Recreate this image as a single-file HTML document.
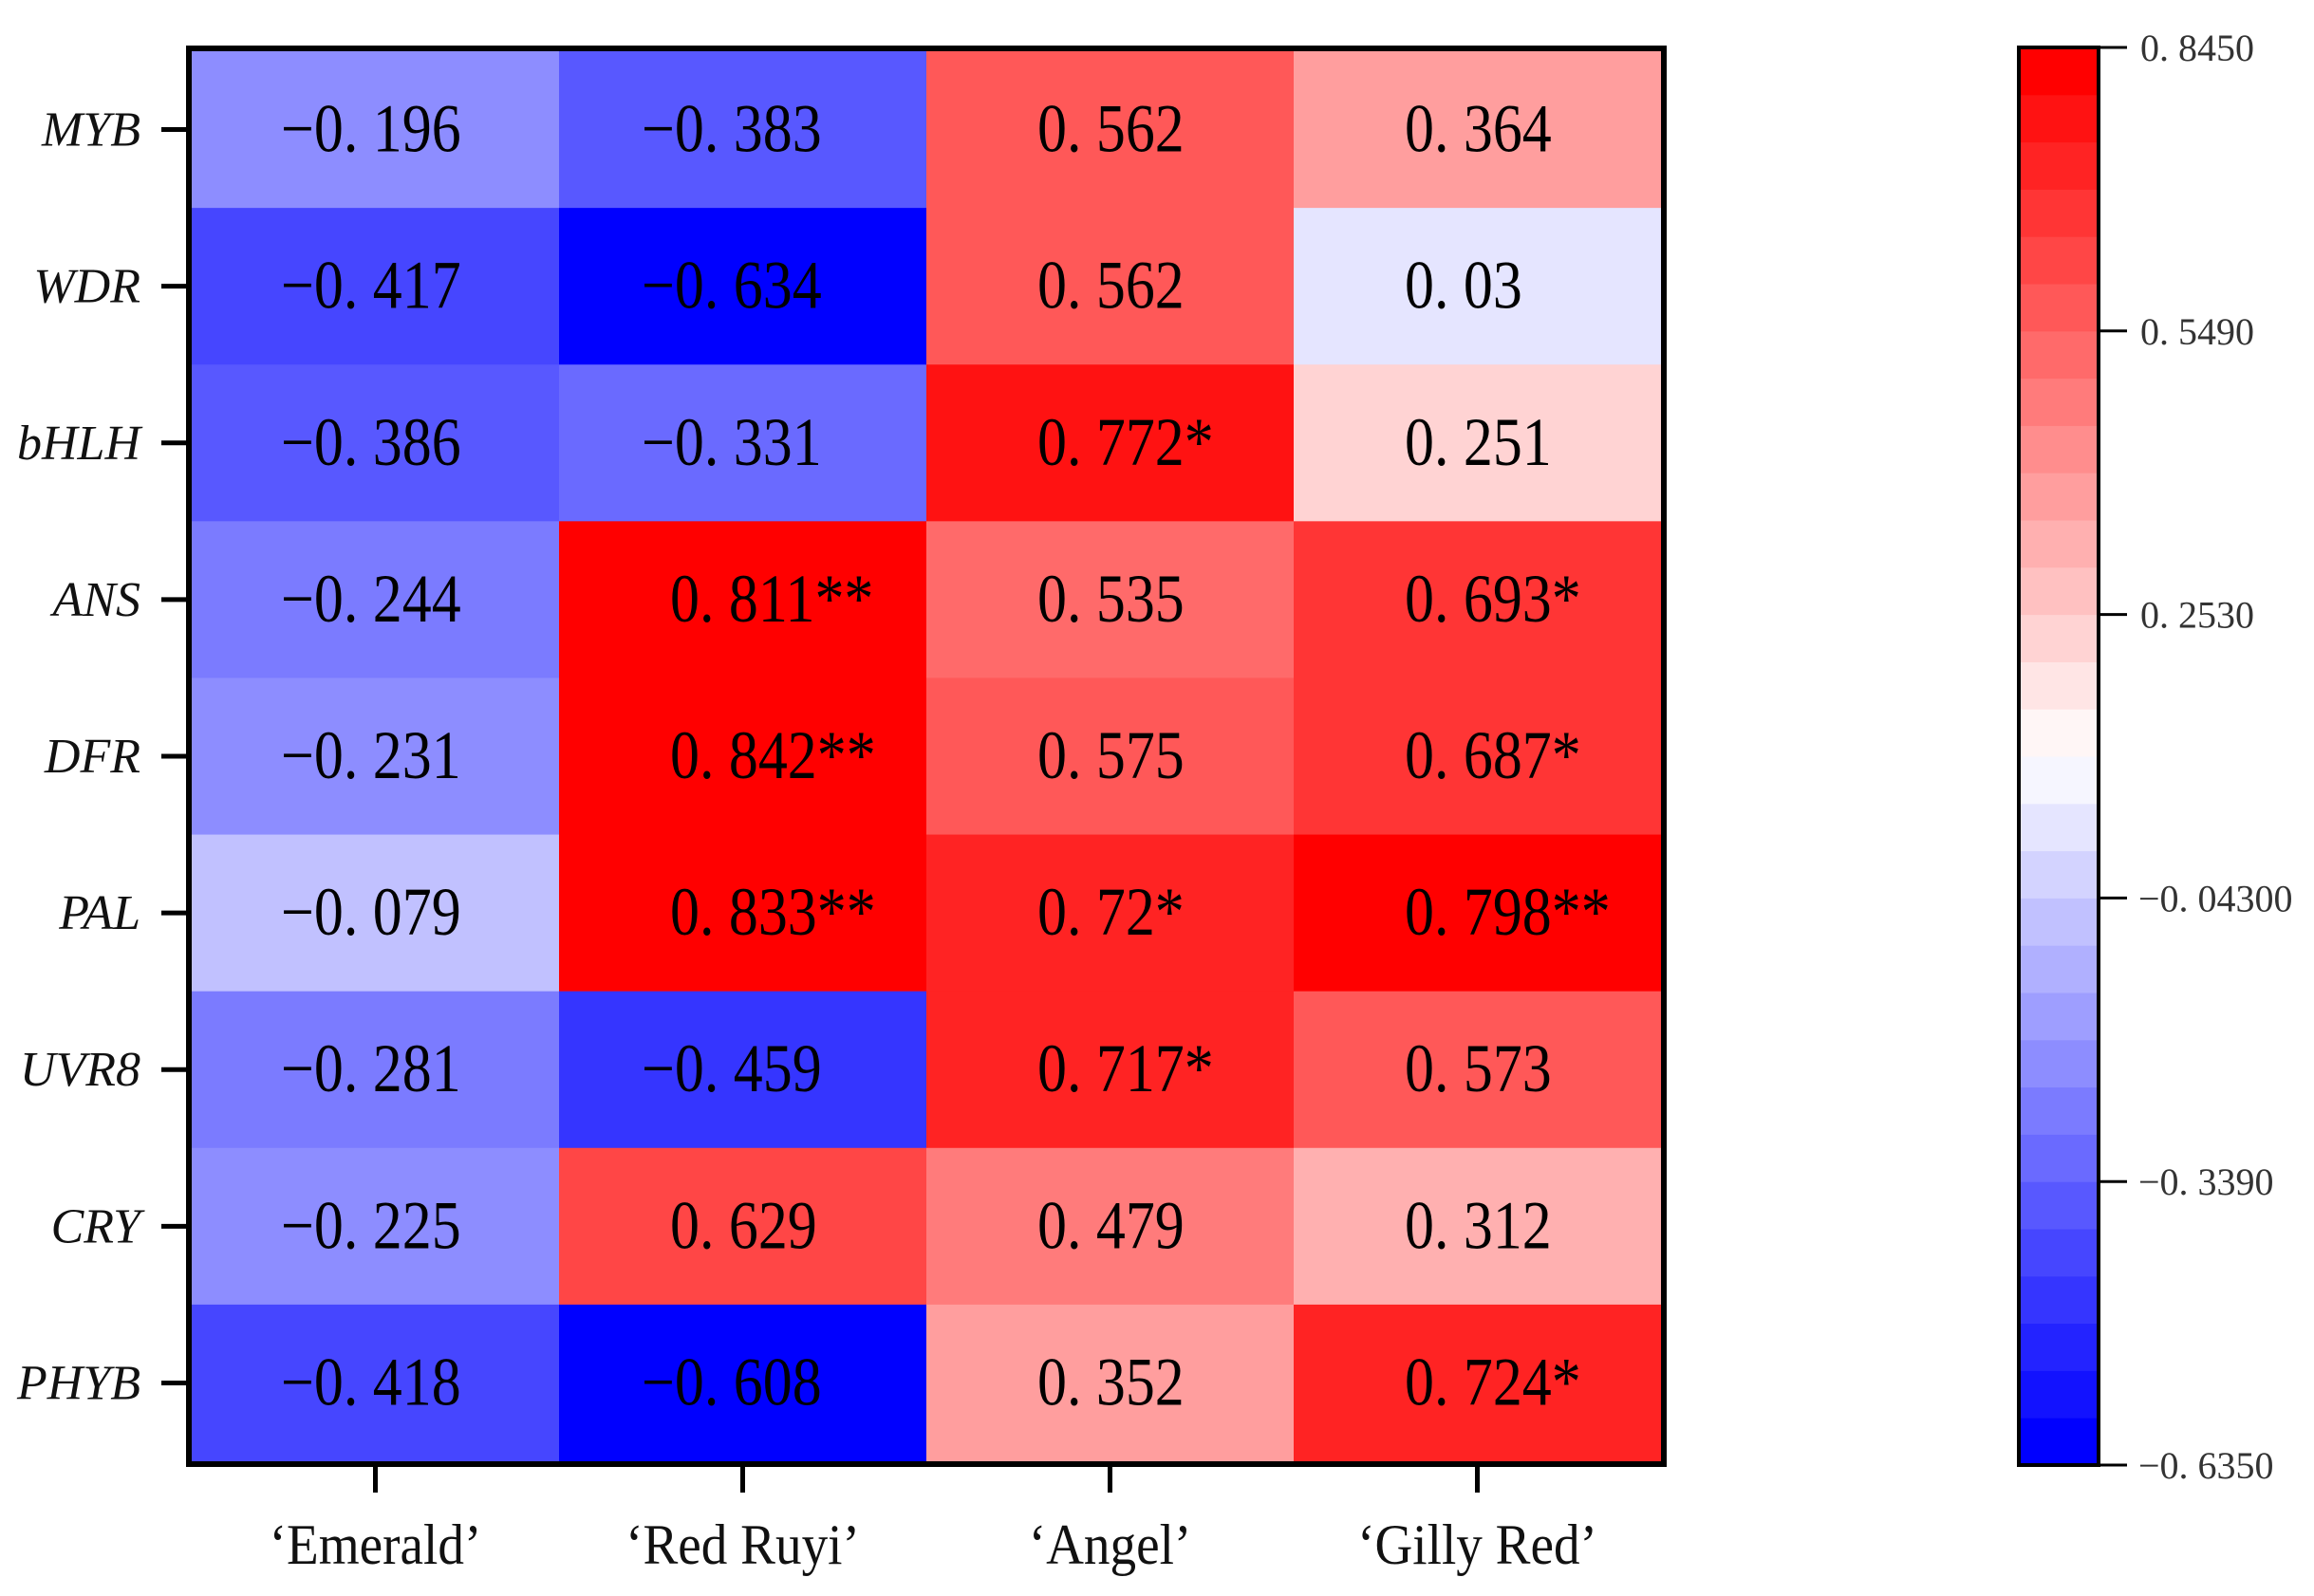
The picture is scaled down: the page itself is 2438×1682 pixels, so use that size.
<!DOCTYPE html>
<html><head><meta charset="utf-8"><style>
html,body{margin:0;padding:0;background:#fff;}
svg{display:block;}
</style></head><body>
<svg id="chart" xmlns="http://www.w3.org/2000/svg" width="2438" height="1682" viewBox="0 0 2438 1682">
<rect x="0" y="0" width="2438" height="1682" fill="#fff"/>
<g id="cells"></g>
<g id="labels"></g>
<g id="cbar"></g>
</svg>
<script>
const genes = ["MYB","WDR","bHLH","ANS","DFR","PAL","UVR8","CRY","PHYB"];
const cultivars = ["‘Emerald’","‘Red Ruyi’","‘Angel’","‘Gilly Red’"];
const valEmerald = [-0.196,-0.417,-0.386,-0.244,-0.231,-0.079,-0.281,-0.225,-0.418];
const valRedRuyi = [-0.383,-0.634,-0.331,0.811,0.842,0.833,-0.459,0.629,-0.608];
const valAngel = [0.562,0.562,0.772,0.535,0.575,0.72,0.717,0.479,0.352];
const valGilly = [0.364,0.03,0.251,0.693,0.687,0.798,0.573,0.312,0.724];
const sigEmerald = ["","","","","","","","",""];
const sigRedRuyi = ["","","","**","**","**","","",""];
const sigAngel = ["","","*","","","*","*","",""];
const sigGilly = ["","","","*","*","**","","","*"];
const cbTicks = [0.845,0.549,0.253,-0.043,-0.339,-0.635];
const cbTickLabels = ["0. 8450","0. 5490","0. 2530","\u22120. 04300","\u22120. 3390","\u22120. 6350"];
const vmin = -0.635, vmax = 0.845, nBands = 30;

const NS = "http://www.w3.org/2000/svg";
const PX0 = 202, PX1 = 1750, PY0 = 54, PY1 = 1540;
const colW = (PX1 - PX0) / cultivars.length, rowH = (PY1 - PY0) / genes.length;
const CBX0 = 2127, CBX1 = 2211, CBY0 = 50, CBY1 = 1544;
function xCol(i){ return PX0 + i * colW; }
function yRow(j){ return PY0 + j * rowH; }
function yCb(v){ return CBY1 - (v - vmin) / (vmax - vmin) * (CBY1 - CBY0); }
function bandIndex(v){
  const step = (vmax - vmin) / nBands;
  let k = Math.floor((v - vmin) / step);
  return Math.max(0, Math.min(nBands - 1, k));
}
function bandColor(k){
  const p = k / (nBands - 1);
  let r, g, b;
  if (p < 0.5) { const t = (0.5 - p) / 0.5; r = g = Math.round(255 * (1 - t)); b = 255; }
  else { const t = (p - 0.5) / 0.5; r = 255; g = b = Math.round(255 * (1 - t)); }
  return `rgb(${r},${g},${b})`;
}
function color(v){ return bandColor(bandIndex(v)); }
function mk(tag, attrs, parent, text){
  const e = document.createElementNS(NS, tag);
  for (const k in attrs) e.setAttribute(k, attrs[k]);
  if (text !== undefined) e.textContent = text;
  parent.appendChild(e); return e;
}
const cells = document.getElementById('cells');
const labels = document.getElementById('labels');
const cbar = document.getElementById('cbar');
const series = [valEmerald, valRedRuyi, valAngel, valGilly];
const sigs = [sigEmerald, sigRedRuyi, sigAngel, sigGilly];
const serif = '"Liberation Serif", serif';

for (let i = 0; i < cultivars.length; i++) {
  for (let j = 0; j < genes.length; j++) {
    const v = series[i][j];
    const r = mk('rect', {x: xCol(i), y: yRow(j), width: colW + 0.5, height: rowH + 0.5, fill: color(v)}, cells);
    
    
    const s = Math.abs(v).toString().replace('0.', '0. ');
    const tx = xCol(i) + (i === 0 ? 124 : 117) - (v < 0 ? 30 : 0);
    const ty = yRow(j) + rowH / 2 + 23;
    const t = mk('text', {x: 0, y: 0, transform: `translate(${tx},${ty}) scale(0.86,1)`, 'font-family': serif, 'font-size': 72, fill: '#000'}, cells,
      (v < 0 ? '\u2212' : '') + s + sigs[i][j]);
    
    
  }
}
const fr = mk('rect', {x: 199, y: 51, width: 1554, height: 1492, fill: 'none', stroke: '#000', 'stroke-width': 6}, labels);


for (let j = 0; j < genes.length; j++) {
  const y = yRow(j) + rowH / 2;
  const tk = mk('line', {x1: 170, x2: 197, y1: y, y2: y, stroke: '#000', 'stroke-width': 5}, labels);
  
  
  const t = mk('text', {x: 148, y: y + 17, 'text-anchor': 'end', 'font-family': serif, 'font-style': 'italic', 'font-size': 52, fill: '#111'}, labels, genes[j]);
  
  
}
for (let i = 0; i < cultivars.length; i++) {
  const x = xCol(i) + colW / 2;
  const tk = mk('line', {x1: x, x2: x, y1: 1546, y2: 1573, stroke: '#000', 'stroke-width': 5}, labels);
  
  
  const t = mk('text', {x: 0, y: 0, transform: `translate(${x},1648) scale(0.92,1)`, 'text-anchor': 'middle', 'font-family': serif, 'font-size': 60, fill: '#111'}, labels, cultivars[i]);
  
  
}
const step = (vmax - vmin) / nBands;
for (let k = 0; k < nBands; k++) {
  const lo = vmin + k * step, hi = lo + step;
  const b = mk('rect', {x: CBX0, y: yCb(hi), width: CBX1 - CBX0, height: yCb(lo) - yCb(hi) + 0.5, fill: bandColor(k)}, cbar);
  
  
}
const cf = mk('rect', {x: CBX0, y: CBY0, width: CBX1 - CBX0, height: CBY1 - CBY0, fill: 'none', stroke: '#000', 'stroke-width': 4}, cbar);


for (let k = 0; k < cbTicks.length; k++) {
  const y = yCb(cbTicks[k]);
  const tk = mk('line', {x1: CBX1, x2: 2241, y1: y, y2: y, stroke: '#000', 'stroke-width': 3}, cbar);
  
  
  const neg = cbTickLabels[k].startsWith('\u2212');
  const t = mk('text', {x: neg ? 2253 : 2255, y: y + 14, 'font-family': serif, 'font-size': 40, fill: '#333'}, cbar, cbTickLabels[k]);
  
  
}
</script>
</body></html>
